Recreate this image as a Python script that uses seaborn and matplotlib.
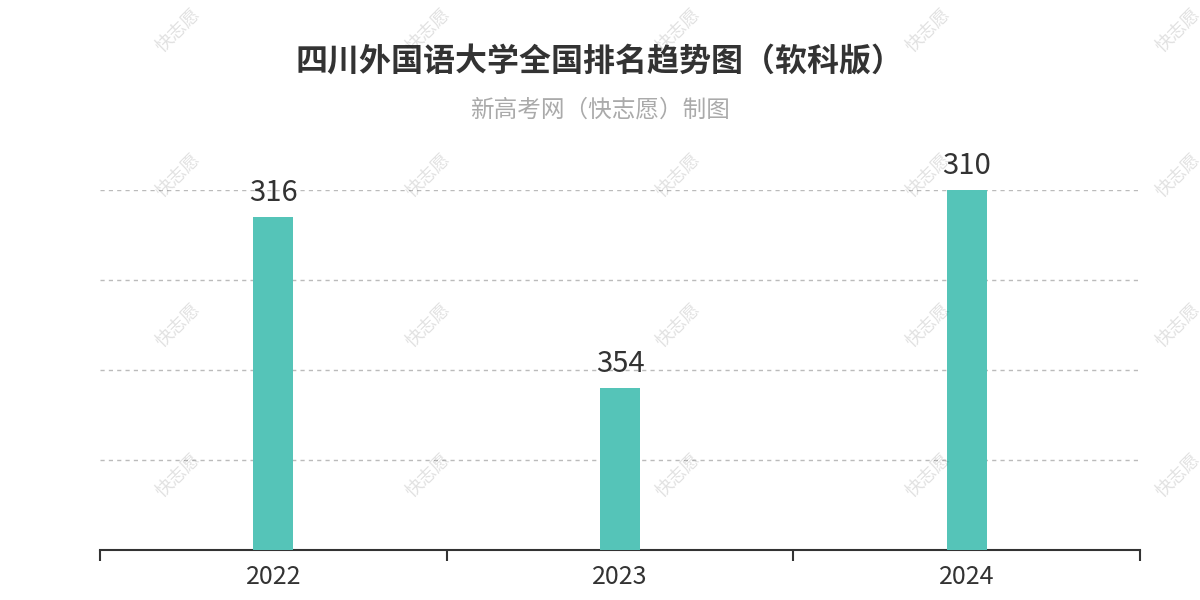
import pandas as pd
import seaborn as sns
import matplotlib.pyplot as plt

# Data: national ranking per year (lower is better)
years = ["2022", "2023", "2024"]
ranks = [316, 354, 310]

# bars are drawn as distance from a reference rank so a better rank gives a taller bar
base_rank = 390
df = pd.DataFrame({"year": years, "rank": ranks})
df["height"] = base_rank - df["rank"]

sns.set_theme(style="white")
plt.rcParams["font.family"] = ["Noto Sans CJK SC", "DejaVu Sans"]

fig = plt.figure(figsize=(12, 6), dpi=100)
ax = fig.add_axes([100 / 1200, 50 / 600, 1040 / 1200, 360 / 600])

sns.barplot(data=df, x="year", y="height", color="#55c4b8", width=0.115,
            saturation=1, linewidth=0, ax=ax, zorder=3)

ax.set_ylim(0, 80)
ax.set_xlim(-0.5, 2.5)
ax.set_yticks([20, 40, 60, 80])
ax.yaxis.grid(True, linestyle=(0, (3, 3)), color="#bbbbbb", linewidth=1)
ax.tick_params(axis="y", left=False, labelleft=False)
ax.set_xticks([-0.5, 0.5, 1.5, 2.5], minor=False)
ax.set_xticklabels(["", "", "", ""])
ax.set_xticks([0, 1, 2], minor=True)
ax.set_xticklabels(years, minor=True)
ax.tick_params(axis="x", which="major", bottom=True, length=8, width=1.5,
               color="#333333", direction="out")
ax.tick_params(axis="x", which="minor", bottom=True, length=0, labelsize=18,
               labelcolor="#333333", pad=10)
for s in ["top", "right", "left"]:
    ax.spines[s].set_visible(False)
ax.spines["bottom"].set_color("#333333")
ax.spines["bottom"].set_linewidth(1.5)
ax.set_xlabel("")
ax.set_ylabel("")

for i, (h, r) in enumerate(zip(df["height"], df["rank"])):
    ax.text(i, h + 2, str(r), ha="center", va="bottom", fontsize=21, color="#333333")

fig.text(0.5, 1 - 62 / 600, "四川外国语大学全国排名趋势图（软科版）", ha="center", va="center",
         fontsize=23, fontweight="bold", color="#333333")
fig.text(0.5, 1 - 110 / 600, "新高考网（快志愿）制图", ha="center", va="center",
         fontsize=17, color="#aaaaaa")

# watermark
for wx in [178, 428, 678, 928, 1178]:
    for wy in [30, 175, 325, 475]:
        fig.text(wx / 1200, 1 - wy / 600, "快志愿", ha="center", va="center", rotation=45,
                 fontsize=13, color="#000000", alpha=0.12, zorder=10)

fig.savefig("out.png", dpi=100)
plt.close()
